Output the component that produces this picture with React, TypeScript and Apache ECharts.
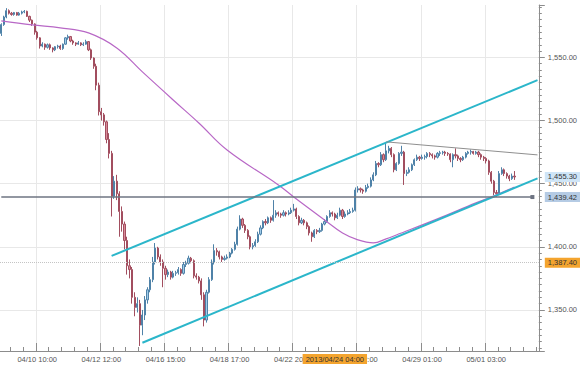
import React, { useEffect, useRef } from 'react';
import * as echarts from 'echarts';

// ---- axis / tick data ----
const tickLabels = ['04/10 10:00', '04/12 12:00', '04/16 15:00', '04/18 17:00', '04/22 20:00', '04/24 22:00', '04/29 01:00', '05/01 03:00'];
const firstLabelIndex = 14;
const barsPerLabel = 25;
const barsPerMinorTick = 5;
const slotCount = 210;
const categories = Array.from({ length: slotCount }, (_, i) => String(i));
const yMin = 1317.5;
const yMax = 1591.5;

// ---- price bars: [open, close, low, high] ----
const ohlc = [
  [1569, 1576, 1567, 1577], [1576, 1582, 1575, 1583], [1582, 1587, 1581, 1589], [1587, 1585, 1584, 1588],
  [1585, 1584, 1583, 1586], [1584, 1585.5, 1583, 1586], [1585.5, 1583.5, 1583, 1586], [1583.5, 1585, 1583, 1586],
  [1585, 1586, 1584, 1587], [1586, 1586.5, 1585, 1587.5], [1586.5, 1582.5, 1582, 1587], [1582.5, 1579.5, 1578, 1583],
  [1579.5, 1576.5, 1575, 1580], [1576.5, 1570, 1568, 1577], [1570, 1565.5, 1564, 1571], [1565.5, 1559, 1557, 1566],
  [1559, 1560.5, 1558, 1562], [1560.5, 1558, 1556, 1561], [1558, 1560, 1557, 1561], [1560, 1557.5, 1556, 1561],
  [1557.5, 1556, 1554, 1558], [1556, 1558.5, 1555, 1559], [1558.5, 1559, 1557, 1560], [1559, 1557, 1556, 1560],
  [1557, 1560.5, 1556, 1561], [1560.5, 1565.5, 1560, 1566], [1565.5, 1566.5, 1564, 1568], [1566.5, 1563, 1562, 1567],
  [1563, 1561.5, 1560, 1564], [1561.5, 1560.5, 1559, 1562], [1560.5, 1561.5, 1560, 1563], [1561.5, 1560, 1559, 1562],
  [1560, 1560.5, 1559, 1562], [1560.5, 1562.5, 1560, 1564], [1562.5, 1556, 1555, 1563], [1556, 1549.5, 1548, 1557],
  [1549.5, 1543, 1541, 1550], [1543, 1528, 1524, 1545], [1528, 1507, 1504, 1530], [1507, 1504.5, 1500, 1510],
  [1504.5, 1499, 1496, 1506], [1499, 1485, 1482, 1500], [1485, 1474, 1470, 1490], [1474, 1440, 1424, 1476],
  [1440, 1452, 1438, 1456], [1452, 1442, 1437, 1457], [1442, 1428, 1408, 1444], [1428, 1418, 1412, 1432],
  [1418, 1405, 1398, 1420], [1405, 1385, 1378, 1408], [1385, 1382, 1375, 1390], [1382, 1360, 1355, 1384],
  [1360, 1352, 1345, 1364], [1352, 1355, 1348, 1360], [1355, 1338, 1321.5, 1358], [1338, 1346, 1330, 1350],
  [1346, 1358, 1342, 1361], [1358, 1366, 1355, 1368], [1366, 1374, 1364, 1376], [1374, 1388, 1372, 1392],
  [1388, 1399, 1386, 1403], [1399, 1392, 1390, 1400], [1392, 1388, 1385, 1394], [1388, 1383, 1368, 1390],
  [1383, 1378, 1374, 1385], [1378, 1380, 1376, 1382], [1380, 1376, 1374, 1381], [1376, 1379, 1375, 1381],
  [1379, 1379.5, 1377, 1381], [1379.5, 1382, 1378, 1384], [1382, 1379, 1377, 1383], [1379, 1386, 1378, 1388],
  [1386, 1387, 1384, 1389], [1387, 1391, 1386, 1393], [1391, 1389, 1387, 1392], [1389, 1377, 1375, 1390],
  [1377, 1376, 1374, 1379], [1376, 1373, 1371, 1377], [1373, 1362, 1358, 1375], [1362, 1342, 1337, 1364],
  [1342, 1364, 1340, 1366], [1364, 1374, 1363, 1376], [1374, 1388, 1373, 1390], [1388, 1397, 1386, 1402],
  [1397, 1396, 1393, 1399], [1396, 1392, 1390, 1397], [1392, 1390, 1388, 1393], [1390, 1391, 1389, 1393],
  [1391, 1392, 1390, 1394], [1392, 1395, 1391, 1396], [1395, 1398, 1394, 1399], [1398, 1402, 1397, 1404],
  [1402, 1414, 1401, 1416], [1414, 1422, 1413, 1425], [1422, 1417, 1415, 1423], [1417, 1413, 1411, 1418],
  [1413, 1408, 1406, 1414], [1408, 1400, 1398, 1409], [1400, 1401, 1398, 1403], [1401, 1404, 1400, 1406],
  [1404, 1410, 1403, 1412], [1410, 1415, 1409, 1417], [1415, 1420, 1414, 1421], [1420, 1419, 1417, 1422],
  [1419, 1423, 1418, 1424], [1423, 1421, 1419, 1424], [1421, 1425, 1420, 1437], [1425, 1427, 1423, 1429],
  [1427, 1426, 1424, 1428], [1426, 1425, 1423, 1427], [1425, 1427, 1424, 1429], [1427, 1426, 1424, 1428],
  [1426, 1427, 1425, 1429], [1427, 1429, 1426, 1431], [1429, 1430, 1428, 1434], [1430, 1424, 1422, 1431],
  [1424, 1419, 1417, 1425], [1419, 1421, 1418, 1423], [1421, 1419, 1417, 1422], [1419, 1416, 1414, 1420],
  [1416, 1411, 1409, 1417], [1411, 1408, 1404, 1412], [1408, 1413, 1407, 1414], [1413, 1412, 1410, 1414],
  [1412, 1413, 1411, 1415], [1413, 1418, 1412, 1419], [1418, 1420, 1417, 1422], [1420, 1424, 1419, 1425],
  [1424, 1427, 1423, 1429], [1427, 1426, 1424, 1428], [1426, 1423, 1421, 1427], [1423, 1425, 1422, 1427],
  [1425, 1429, 1424, 1431], [1429, 1424, 1422, 1430], [1424, 1426, 1423, 1428], [1426, 1427, 1425, 1429],
  [1427, 1428, 1426, 1430], [1428, 1429, 1427, 1431], [1429, 1445, 1428, 1447], [1445, 1446, 1443, 1448],
  [1446, 1445, 1443, 1447], [1445, 1444, 1442, 1446], [1444, 1447, 1443, 1449], [1447, 1448, 1446, 1450],
  [1448, 1453, 1447, 1455], [1453, 1457, 1452, 1459], [1457, 1466, 1456, 1468], [1466, 1465, 1463, 1467],
  [1465, 1473, 1464, 1475], [1473, 1469, 1467, 1474], [1469, 1476, 1468, 1483], [1476, 1478, 1474, 1480],
  [1478, 1473, 1471, 1479], [1473, 1461, 1459, 1474], [1461, 1466, 1460, 1467], [1466, 1474, 1465, 1475],
  [1474, 1475, 1472, 1480], [1475, 1458, 1449, 1476], [1458, 1459, 1456, 1461], [1459, 1461, 1458, 1463],
  [1461, 1465, 1460, 1466], [1465, 1469, 1464, 1470], [1469, 1471, 1468, 1473], [1471, 1470, 1468, 1472],
  [1470, 1471, 1469, 1473], [1471, 1471.5, 1469, 1473], [1471.5, 1474, 1470, 1475], [1474, 1473, 1471, 1475],
  [1473, 1472, 1470, 1474], [1472, 1471, 1469, 1473], [1471, 1474, 1470, 1475], [1474, 1474.5, 1472, 1476],
  [1474.5, 1475, 1473, 1476], [1475, 1474, 1472, 1476], [1474, 1473.5, 1472, 1475], [1473.5, 1469, 1467, 1474],
  [1469, 1473, 1463, 1474], [1473, 1472, 1470, 1478], [1472, 1470, 1468, 1473], [1470, 1469, 1467, 1471],
  [1469, 1471, 1468, 1472], [1471, 1474, 1470, 1475], [1474, 1475, 1473, 1476], [1475, 1475.5, 1473, 1477],
  [1475.5, 1474, 1473, 1476], [1474, 1475, 1473, 1476], [1475, 1473, 1471, 1476], [1473, 1471, 1469, 1474],
  [1471, 1470, 1468, 1472], [1470, 1468, 1466, 1471], [1468, 1459, 1457, 1469], [1459, 1452, 1450, 1460],
  [1452, 1443, 1441, 1453], [1443, 1442, 1439.42, 1445], [1442, 1458, 1441, 1460], [1458, 1461, 1457, 1463],
  [1461, 1458, 1456, 1462], [1458, 1456, 1454, 1459], [1456, 1454, 1452, 1457], [1454, 1456, 1453, 1458],
  [1456, 1455.3, 1453, 1460],
];

// ---- moving average: [bar index, price] ----
const maPoints = [
  [0, 1578.9], [12, 1575.7], [23, 1573.4], [34, 1569.4], [45, 1557.5], [55, 1538.5], [67, 1516.3],
  [77, 1498.1], [88, 1476.7], [108, 1449.0], [114, 1439.5], [126, 1421.3], [133, 1411.0], [139, 1405.5],
  [145, 1403.1], [150, 1406.3], [154, 1409.4], [170, 1422.1], [185, 1434.8], [193, 1441.1], [200, 1447.4],
];

// ---- drawn trend lines: [bar index, price] ----
const upperChannel = [[43, 1392.8], [209, 1532.0]];
const lowerChannel = [[55, 1324.0], [209, 1454.2]];
const resistanceLine = [[150, 1483.1], [209, 1472.8]];
const supportLevel = 1439.42;
const supportEndIndex = 207;
const lastPrice = 1455.3;
const crosshairPrice = 1387.4;
const crosshairIndex = 130;
const crosshairTime = '2013/04/24 04:00';

const fmtPrice = (v: number) =>
  v.toLocaleString('en-US', { minimumFractionDigits: 2, maximumFractionDigits: 2 });

const isMajor = (i: number) => i >= firstLabelIndex && (i - firstLabelIndex) % barsPerLabel === 0;
const isMinor = (i: number) => (i - firstLabelIndex) % barsPerMinorTick === 0;

const FONT = 'Liberation Sans, Arial, sans-serif';
const axisGray = '#8c8c8c';
const gridGray = '#e8e8e8';
const HIDDEN = 'rgba(0,0,0,0)';

export default function App() {
  const ref = useRef<HTMLDivElement>(null);
  useEffect(() => {
    if (!ref.current) return;
    const chart = echarts.init(ref.current, null, { renderer: 'svg' });
    const tagLabel = (text: string, bg: string) => ({
      show: true,
      position: 'end',
      formatter: text,
      backgroundColor: bg,
      color: '#333',
      padding: [1, 3, 1, 3],
      fontSize: 7.5,
      fontFamily: FONT,
      distance: 6,
    });
    chart.setOption({
      animation: false,
      backgroundColor: '#ffffff',
      grid: { left: 0, right: 37, top: 5, bottom: 14, containLabel: false },
      xAxis: [
        {
          type: 'category',
          data: categories,
          boundaryGap: true,
          axisLine: { show: true, lineStyle: { color: axisGray, width: 1 } },
          axisTick: { show: true, inside: true, length: 8, interval: (i: number) => isMajor(i), lineStyle: { color: axisGray } },
          axisLabel: {
            interval: (i: number) => isMajor(i),
            formatter: (_v: string, i: number) => tickLabels[(i - firstLabelIndex) / barsPerLabel] ?? '',
            color: '#555',
            fontSize: 7.5,
            fontFamily: FONT,
            margin: 4,
          },
          splitLine: { show: true, interval: (i: number) => isMajor(i), lineStyle: { color: gridGray, width: 1 } },
        },
        {
          type: 'category',
          data: categories,
          position: 'bottom',
          boundaryGap: true,
          axisLine: { show: false },
          axisTick: { show: true, inside: true, length: 4, interval: (i: number) => isMinor(i), lineStyle: { color: axisGray } },
          axisLabel: { show: false },
          splitLine: { show: false },
        },
      ],
      yAxis: {
        type: 'value',
        position: 'right',
        min: yMin,
        max: yMax,
        axisLine: { show: true, lineStyle: { color: axisGray } },
        axisTick: { show: true, length: 6, lineStyle: { color: axisGray } },
        minorTick: { show: true, splitNumber: 10, length: 3, lineStyle: { color: axisGray } },
        axisLabel: {
          margin: 9,
          color: '#555',
          fontSize: 7.5,
          fontFamily: FONT,
          showMinLabel: false,
          showMaxLabel: false,
          formatter: (v: number) => (Math.abs(v % 50) < 1e-6 ? fmtPrice(v) : ''),
        },
        splitLine: { show: true, showMinLine: false, showMaxLine: false, lineStyle: { color: gridGray } },
      },
      series: [
        {
          type: 'candlestick',
          xAxisIndex: 0,
          data: ohlc,
          barWidth: '65%',
          itemStyle: {
            color: '#9fcbe9',
            color0: '#d98a98',
            borderColor: '#4f82a8',
            borderColor0: '#a24e5f',
            borderWidth: 1,
          },
          markLine: {
            silent: true,
            symbol: 'none',
            animation: false,
            data: [
              [
                { coord: [0, supportLevel], symbol: 'none' },
                { coord: [supportEndIndex, supportLevel], symbol: 'rect', symbolSize: 4 },
              ],
              { yAxis: supportLevel, lineStyle: { color: HIDDEN }, label: tagLabel(fmtPrice(supportLevel), '#b5cbe4') },
              { yAxis: lastPrice, lineStyle: { color: HIDDEN }, label: tagLabel(fmtPrice(lastPrice), '#cfe5f7') },
              {
                yAxis: crosshairPrice,
                lineStyle: { color: '#c4c4c4', type: 'dotted', width: 1 },
                label: tagLabel(fmtPrice(crosshairPrice), '#f4a42e'),
              },
              {
                xAxis: crosshairIndex,
                lineStyle: { color: HIDDEN },
                label: { ...tagLabel(crosshairTime, '#f4a42e'), position: 'start', distance: 3 },
              },
            ],
            lineStyle: { color: '#6e7482', width: 1.5, type: 'solid' },
            label: { show: false },
          },
        },
        {
          type: 'line',
          xAxisIndex: 0,
          data: maPoints,
          smooth: 0.4,
          showSymbol: false,
          lineStyle: { color: '#b868c6', width: 1.2 },
        },
        {
          type: 'line',
          xAxisIndex: 0,
          data: upperChannel,
          showSymbol: false,
          lineStyle: { color: '#2bb6ca', width: 2 },
        },
        {
          type: 'line',
          xAxisIndex: 0,
          data: lowerChannel,
          showSymbol: false,
          lineStyle: { color: '#2bb6ca', width: 2 },
        },
        {
          type: 'line',
          xAxisIndex: 0,
          data: resistanceLine,
          showSymbol: false,
          lineStyle: { color: '#8f8f8f', width: 1 },
        },
      ],
    });
    return () => chart.dispose();
  }, []);
  return (
    <div
      ref={ref}
      style={{ position: 'absolute', left: 0, top: 0, width: 580, height: 365 }}
    />
  );
}
